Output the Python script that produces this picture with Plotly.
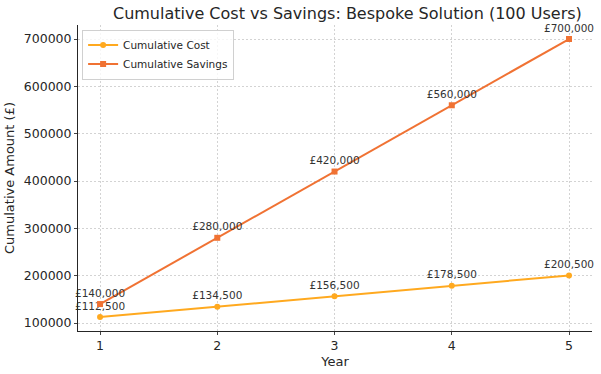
import plotly.graph_objects as go

years = [1, 2, 3, 4, 5]
cumulative_cost = [112500, 134500, 156500, 178500, 200500]
cumulative_savings = [140000, 280000, 420000, 560000, 700000]
y_ticks = [100000, 200000, 300000, 400000, 500000, 600000, 700000]

cost_color = "#FFA91F"
sav_color = "#F07233"
font = "DejaVu Sans"

fig = go.Figure()
fig.add_trace(go.Scatter(
    x=years, y=cumulative_cost, mode="lines+markers+text", name="Cumulative Cost",
    line=dict(color=cost_color, width=2), marker=dict(symbol="circle", size=6, color=cost_color),
    text=[f"£{v:,}" for v in cumulative_cost], textposition="top center",
    textfont=dict(family=font, size=10.5, color="#333333"), cliponaxis=False,
))
fig.add_trace(go.Scatter(
    x=years, y=cumulative_savings, mode="lines+markers+text", name="Cumulative Savings",
    line=dict(color=sav_color, width=2), marker=dict(symbol="square", size=6, color=sav_color),
    text=[f"£{v:,}" for v in cumulative_savings], textposition="top center",
    textfont=dict(family=font, size=10.5, color="#333333"), cliponaxis=False,
))

fig.update_layout(
    width=601, height=374,
    margin=dict(l=78, r=9, t=25, b=43, autoexpand=False),
    paper_bgcolor="white", plot_bgcolor="white",
    font=dict(family=font, size=12, color="#262626"),
    title=dict(text="Cumulative Cost vs Savings: Bespoke Solution (100 Users)",
               x=0.578, xanchor="center", y=0.98, yanchor="top",
               font=dict(size=16, color="#262626")),
    legend=dict(x=0.008, y=0.985, xanchor="left", yanchor="top",
                bgcolor="rgba(255,255,255,0.8)", bordercolor="#d0d0d0", borderwidth=1,
                font=dict(size=10.5), tracegroupgap=0, itemwidth=30),
    showlegend=True,
)
fig.update_xaxes(
    title=dict(text="Year", font=dict(size=13), standoff=4),
    range=[0.812, 5.196], tickvals=years, ticks="outside", ticklen=3,
    showline=True, linecolor="#262626", linewidth=1, mirror=False,
    showgrid=True, gridcolor="#d3d3d3", griddash="2px,2px", gridwidth=1,
    tickfont=dict(size=12.5), zeroline=False, automargin=False,
)
fig.update_yaxes(
    title=dict(text="Cumulative Amount (£)", font=dict(size=13), standoff=6),
    range=[83100, 729600], tickvals=y_ticks, ticktext=[str(v) for v in y_ticks],
    ticks="outside", ticklen=3,
    showline=True, linecolor="#262626", linewidth=1,
    showgrid=True, gridcolor="#d3d3d3", griddash="2px,2px", gridwidth=1,
    tickfont=dict(size=12.5), zeroline=False, automargin=False,
)

fig.write_html("out.html", config={"displayModeBar": False},
               post_script="document.body.style.margin='0';")
